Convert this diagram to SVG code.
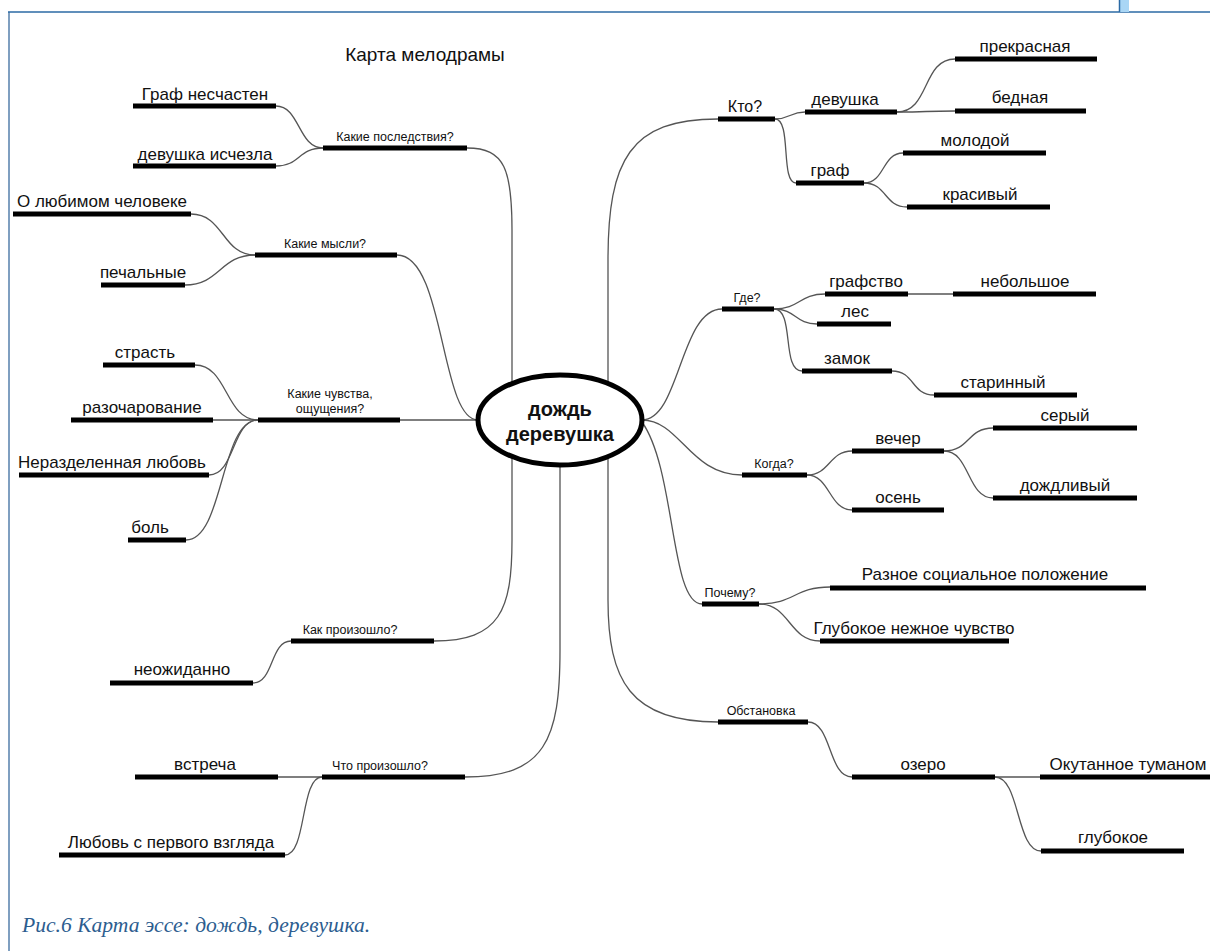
<svg xmlns="http://www.w3.org/2000/svg" width="1210" height="951" viewBox="0 0 1210 951">
<style>
.bar{stroke:#000;stroke-width:5;fill:none}
.c{stroke:#555;stroke-width:1.3;fill:none}
.t{font-family:"Liberation Sans",Arial,sans-serif;font-size:17px;fill:#111;text-anchor:middle}
.s{font-family:"Liberation Sans",Arial,sans-serif;font-size:12.5px;fill:#111;text-anchor:middle}
.m{font-family:"Liberation Sans",Arial,sans-serif;font-size:16px;fill:#111;text-anchor:middle}
</style>
<rect width="1210" height="951" fill="#fff"/>
<g id="frame">
<line x1="9" y1="12" x2="9" y2="951" stroke="#7f9fc0" stroke-width="2"/>
<line x1="8" y1="12" x2="1210" y2="12" stroke="#2b6aa5" stroke-width="1.5"/>
<rect x="1120" y="0" width="9" height="12" fill="#a9d6f5"/>
<line x1="1119.5" y1="0" x2="1119.5" y2="12" stroke="#2b6aa5" stroke-width="1.5"/>
</g>
<text id="title" x="425" y="61" style="font-family:'Liberation Sans',Arial,sans-serif;font-size:19px;fill:#111" text-anchor="middle">Карта мелодрамы</text>
<g id="connectors">
<path class="c" d="M467 148 C505 148 512 170 512 230 L512 384"/>
<path class="c" d="M397 255 C445 255 440 420 478 420"/>
<path class="c" d="M400 420 L478 420"/>
<path class="c" d="M434 641 C500 641 512 610 512 540 L512 457"/>
<path class="c" d="M465 777 C545 777 560 740 560 650 L560 465"/>
<path class="c" d="M718 119 C630 119 608 160 608 260 L608 386"/>
<path class="c" d="M722 309 C680 309 680 420 642 420"/>
<path class="c" d="M742 475 C690 475 680 420 642 420"/>
<path class="c" d="M702 604 C670 604 676 470 642 422"/>
<path class="c" d="M718 722 C630 722 608 680 608 600 L608 457"/>
<path class="c" d="M323 148 C298 148 300 106 276 106"/>
<path class="c" d="M323 148 C298 148 300 166 276 166"/>
<path class="c" d="M255 255 C222 255 224 214 191 214"/>
<path class="c" d="M255 255 C220 255 220 285 185 285"/>
<path class="c" d="M258 420 C225 420 228 365 195 365"/>
<path class="c" d="M213 420 L258 420"/>
<path class="c" d="M258 420 C232 420 235 475 209 475"/>
<path class="c" d="M258 420 C220 420 224 540 186 540"/>
<path class="c" d="M291 641 C270 641 274 683 253 683"/>
<path class="c" d="M278 777 L322 777"/>
<path class="c" d="M322 777 C300 777 307 855 285 855"/>
<path class="c" d="M775 119 C790 119 790 112 805 112"/>
<path class="c" d="M775 119 C792 119 780 183 796 183"/>
<path class="c" d="M897 112 C930 112 922 59 955 59"/>
<path class="c" d="M897 112 C930 112 922 111 955 111"/>
<path class="c" d="M864 183 C885 183 882 153 903 153"/>
<path class="c" d="M864 183 C887 183 884 207 907 207"/>
<path class="c" d="M774 309 C800 309 799 294 825 294"/>
<path class="c" d="M774 309 C796 309 795 324 817 324"/>
<path class="c" d="M774 309 C795 309 781 371 802 371"/>
<path class="c" d="M908 294 L953 294"/>
<path class="c" d="M892 371 C915 371 911 395 934 395"/>
<path class="c" d="M807 475 C830 475 829 451 852 451"/>
<path class="c" d="M807 475 C830 475 829 510 852 510"/>
<path class="c" d="M944 451 C970 451 967 428 993 428"/>
<path class="c" d="M944 451 C970 451 967 498 993 498"/>
<path class="c" d="M759 604 C795 604 794 587 830 587"/>
<path class="c" d="M759 604 C790 604 789 641 820 641"/>
<path class="c" d="M808 722 C832 722 828 777 852 777"/>
<path class="c" d="M995 777 L1040 777"/>
<path class="c" d="M995 777 C1020 777 1016 851 1041 851"/>
</g>
<g id="center">
<ellipse cx="560" cy="420" rx="82" ry="45" fill="#fff" stroke="#000" stroke-width="5"/>
<text x="560" y="416" style="font-family:'Liberation Sans',Arial,sans-serif;font-size:20px;font-weight:bold;fill:#111" text-anchor="middle">дождь</text>
<text x="560" y="441" style="font-family:'Liberation Sans',Arial,sans-serif;font-size:20px;font-weight:bold;fill:#111" text-anchor="middle">деревушка</text>
</g>
<g id="n-posl"><line class="bar" x1="323" y1="148" x2="467" y2="148"/><text class="s" x="395" y="141">Какие последствия?</text></g>
<g id="n-graf-nes"><line class="bar" x1="133" y1="106" x2="276" y2="106"/><text class="t" x="205" y="100">Граф несчастен</text></g>
<g id="n-dev-isch"><line class="bar" x1="133" y1="166" x2="276" y2="166"/><text class="t" x="205" y="160">девушка исчезла</text></g>
<g id="n-mysli"><line class="bar" x1="255" y1="255" x2="397" y2="255"/><text class="s" x="325" y="248">Какие мысли?</text></g>
<g id="n-lub"><line class="bar" x1="13" y1="214" x2="191" y2="214"/><text class="t" x="102" y="207">О любимом человеке</text></g>
<g id="n-pech"><line class="bar" x1="101" y1="285" x2="185" y2="285"/><text class="t" x="143" y="278">печальные</text></g>
<g id="n-chuv"><line class="bar" x1="258" y1="420" x2="400" y2="420"/><text class="s" x="330" y="398">Какие чувства,</text><text class="s" x="330" y="413">ощущения?</text></g>
<g id="n-strast"><line class="bar" x1="103" y1="365" x2="195" y2="365"/><text class="t" x="145" y="358">страсть</text></g>
<g id="n-razoch"><line class="bar" x1="71" y1="420" x2="213" y2="420"/><text class="t" x="142" y="413">разочарование</text></g>
<g id="n-nerazd"><line class="bar" x1="19" y1="475" x2="209" y2="475"/><text class="t" x="112" y="468">Неразделенная любовь</text></g>
<g id="n-bol"><line class="bar" x1="128" y1="540" x2="186" y2="540"/><text class="t" x="150" y="533">боль</text></g>
<g id="n-kak"><line class="bar" x1="291" y1="641" x2="434" y2="641"/><text class="s" x="350" y="634">Как произошло?</text></g>
<g id="n-neozh"><line class="bar" x1="110" y1="683" x2="253" y2="683"/><text class="t" x="182" y="675">неожиданно</text></g>
<g id="n-chto"><line class="bar" x1="322" y1="777" x2="465" y2="777"/><text class="s" x="380" y="770">Что произошло?</text></g>
<g id="n-vstr"><line class="bar" x1="135" y1="777" x2="278" y2="777"/><text class="t" x="205" y="770">встреча</text></g>
<g id="n-lub1"><line class="bar" x1="59" y1="855" x2="285" y2="855"/><text class="t" x="171" y="848">Любовь с первого взгляда</text></g>
<g id="n-kto"><line class="bar" x1="718" y1="119" x2="775" y2="119"/><text class="m" x="745" y="112">Кто?</text></g>
<g id="n-devushka"><line class="bar" x1="805" y1="112" x2="897" y2="112"/><text class="t" x="845" y="105">девушка</text></g>
<g id="n-graf"><line class="bar" x1="796" y1="183" x2="864" y2="183"/><text class="t" x="830" y="176">граф</text></g>
<g id="n-prekr"><line class="bar" x1="955" y1="59" x2="1097" y2="59"/><text class="t" x="1025" y="52">прекрасная</text></g>
<g id="n-bedn"><line class="bar" x1="955" y1="111" x2="1086" y2="111"/><text class="t" x="1020" y="103">бедная</text></g>
<g id="n-molod"><line class="bar" x1="903" y1="153" x2="1046" y2="153"/><text class="t" x="975" y="146">молодой</text></g>
<g id="n-krasiv"><line class="bar" x1="907" y1="207" x2="1050" y2="207"/><text class="t" x="980" y="200">красивый</text></g>
<g id="n-gde"><line class="bar" x1="722" y1="309" x2="774" y2="309"/><text class="s" x="747" y="302">Где?</text></g>
<g id="n-grafstvo"><line class="bar" x1="825" y1="294" x2="908" y2="294"/><text class="t" x="866" y="287">графство</text></g>
<g id="n-nebol"><line class="bar" x1="953" y1="294" x2="1096" y2="294"/><text class="t" x="1025" y="287">небольшое</text></g>
<g id="n-les"><line class="bar" x1="817" y1="324" x2="891" y2="324"/><text class="t" x="855" y="317">лес</text></g>
<g id="n-zamok"><line class="bar" x1="802" y1="371" x2="892" y2="371"/><text class="t" x="847" y="364">замок</text></g>
<g id="n-starin"><line class="bar" x1="934" y1="395" x2="1077" y2="395"/><text class="t" x="1003" y="388">старинный</text></g>
<g id="n-kogda"><line class="bar" x1="742" y1="475" x2="807" y2="475"/><text class="s" x="774" y="468">Когда?</text></g>
<g id="n-vecher"><line class="bar" x1="852" y1="451" x2="944" y2="451"/><text class="t" x="898" y="444">вечер</text></g>
<g id="n-osen"><line class="bar" x1="852" y1="510" x2="944" y2="510"/><text class="t" x="898" y="503">осень</text></g>
<g id="n-seryi"><line class="bar" x1="993" y1="428" x2="1137" y2="428"/><text class="t" x="1065" y="421">серый</text></g>
<g id="n-dozhd"><line class="bar" x1="993" y1="498" x2="1137" y2="498"/><text class="t" x="1065" y="491">дождливый</text></g>
<g id="n-pochemu"><line class="bar" x1="702" y1="604" x2="759" y2="604"/><text class="s" x="730" y="597">Почему?</text></g>
<g id="n-razn"><line class="bar" x1="830" y1="588" x2="1146" y2="588"/><text class="t" x="985" y="580">Разное социальное положение</text></g>
<g id="n-glub"><line class="bar" x1="820" y1="641" x2="1009" y2="641"/><text class="t" x="914" y="634">Глубокое нежное чувство</text></g>
<g id="n-obst"><line class="bar" x1="718" y1="722" x2="808" y2="722"/><text class="s" x="761" y="715">Обстановка</text></g>
<g id="n-ozero"><line class="bar" x1="852" y1="777" x2="995" y2="777"/><text class="t" x="923" y="770">озеро</text></g>
<g id="n-okut"><line class="bar" x1="1040" y1="777" x2="1210" y2="777"/><text class="t" x="1128" y="770">Окутанное туманом</text></g>
<g id="n-glubokoe"><line class="bar" x1="1041" y1="851" x2="1184" y2="851"/><text class="t" x="1113" y="843">глубокое</text></g>
<text id="caption" x="22" y="932" style="font-family:'Liberation Serif','Times New Roman',serif;font-size:21.6px;font-style:italic;fill:#2c5d8f">Рис.6 Карта эссе: дождь, деревушка.</text>
</svg>
